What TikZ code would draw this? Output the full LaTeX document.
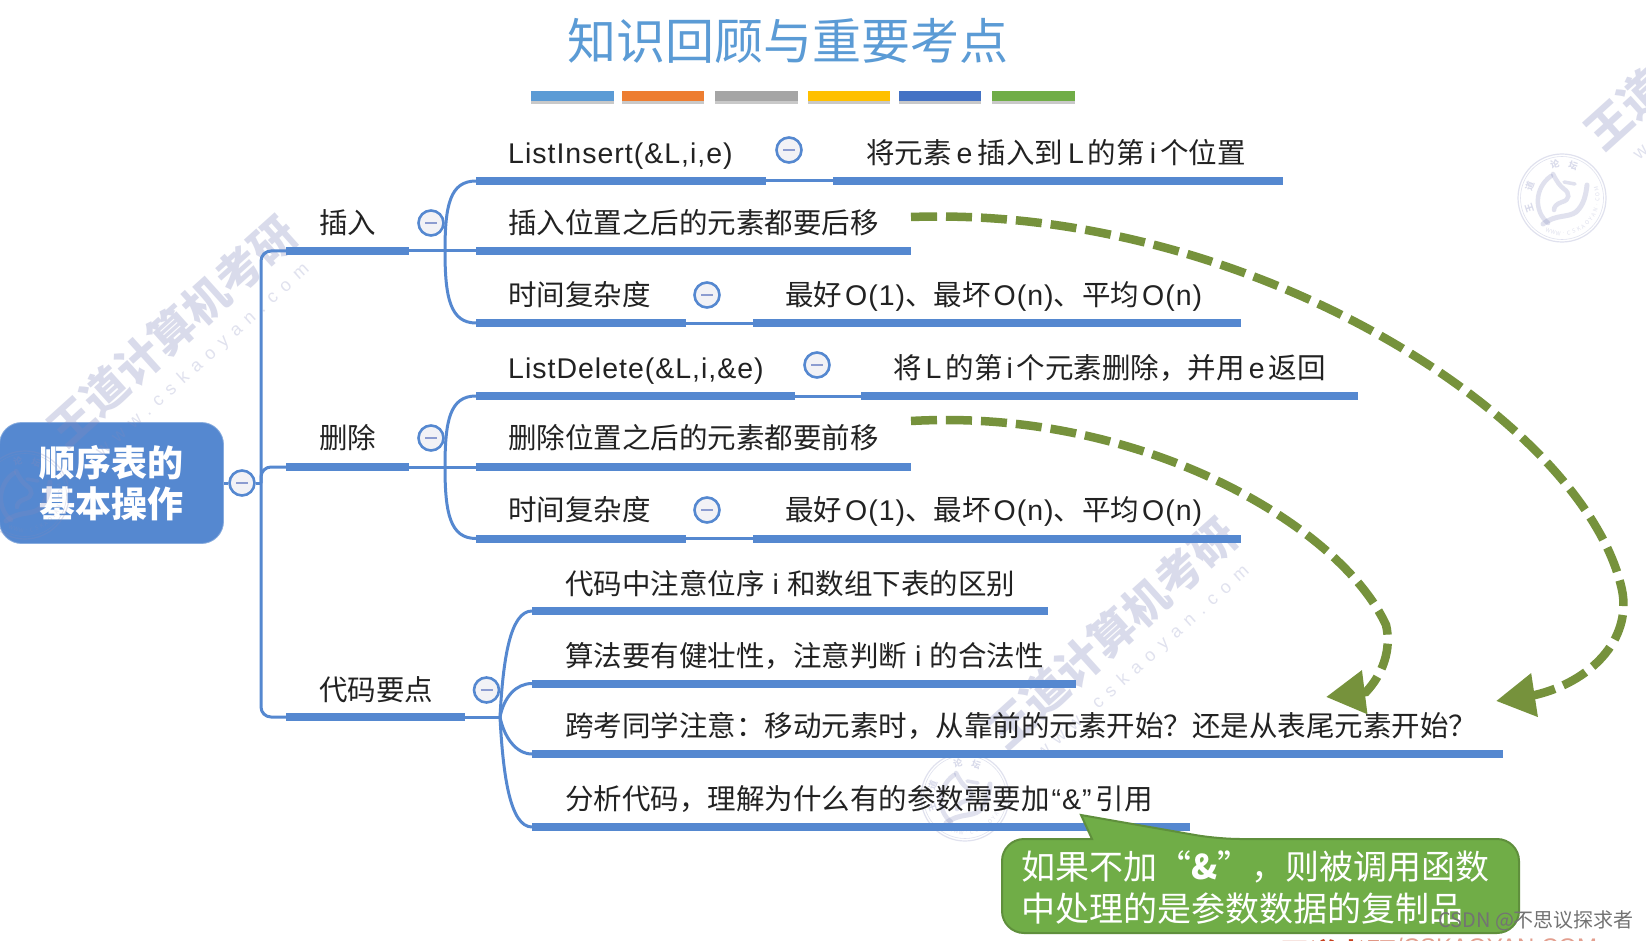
\documentclass[tikz,border=0pt]{standalone}
\usepackage{fontspec}
\setmainfont{Noto Sans CJK SC}
\newfontfamily\wmlatin[LetterSpace=45]{Liberation Sans}
\newfontfamily\lat[LetterSpace=3.5]{Liberation Sans}
\newfontfamily\latplain{Liberation Sans}
\usetikzlibrary{arrows.meta,shadows}
\definecolor{mapblue}{HTML}{5588D0}
\definecolor{btnfill}{HTML}{F2F2F6}
\definecolor{btnminus}{HTML}{8C9CD0}
\definecolor{inktext}{HTML}{222222}
\definecolor{arrowgreen}{HTML}{76923C}
\definecolor{callgreen}{HTML}{70AD47}
\definecolor{callline}{HTML}{5F8F3C}
\definecolor{wmcolor}{HTML}{848ABD}
\definecolor{titleblue}{HTML}{5B9BD5}
\definecolor{sOne}{HTML}{5B9BD5}
\definecolor{sTwo}{HTML}{ED7D31}
\definecolor{sThree}{HTML}{A5A5A5}
\definecolor{sFour}{HTML}{FFC000}
\definecolor{sFive}{HTML}{4472C4}
\definecolor{sSix}{HTML}{70AD47}
\definecolor{footred}{HTML}{C8401E}
\newcommand\fsz[2]{\fontsize{#1}{#2}\selectfont}
\newcommand\la[1]{{\lat #1}}
\newcommand\gp[1]{\hspace{#1pt}}
\tikzset{
  x=1pt,y=-1pt,
  lbl/.style={anchor=west,inner sep=0pt,text=inktext,font=\fsz{28.5}{34},text height=25pt,text depth=3.5pt},
  barstyle/.style={anchor=west,inner sep=0pt,fill=mapblue,minimum height=8pt},
  conn/.style={draw=mapblue,line width=3pt,rounded corners=10pt},
  cbtn/.style={circle,draw=mapblue,line width=2.6pt,fill=btnfill,minimum size=25pt,inner sep=0pt,
    path picture={\draw[btnminus,line width=2.2pt] (path picture bounding box.center) ++(-6,0) -- ++(12,0);}},
  rootbox/.style={rounded corners=22pt,fill=mapblue,draw=mapblue!70!white,line width=.8pt,minimum width=224pt,minimum height=121pt,inner sep=0pt,text=white,align=center,font=\fsz{36}{41}\bfseries},
  cbar/.style={anchor=west,inner sep=0pt,minimum height=10pt,drop shadow={shadow xshift=0pt,shadow yshift=-3pt,opacity=.35,fill=black!60}},
  dasharrow/.style={draw=arrowgreen,line width=8.5pt,dash pattern=on 26pt off 9pt,-{Triangle[length=39pt,width=42pt,fill=arrowgreen]}},
  wmbig/.style={rotate=42,text=wmcolor,text opacity=.3,font=\fsz{45}{45}\bfseries,inner sep=0pt},
  wmsmall/.style={rotate=42,text=wmcolor,text opacity=.25,font=\fsz{18}{18}\wmlatin,inner sep=0pt},
  sealchar/.style={text=wmcolor,text opacity=.3,inner sep=0pt,font=\fsz{9}{9}\bfseries},
  sealurl/.style={text=wmcolor,text opacity=.25,inner sep=0pt,font=\fsz{5.5}{6}},
}
\newcommand\barn[4]{\node[barstyle,minimum width={(#3-#2)*1pt}] (#1) at (#2,#4) {};}
\newcommand\colbar[4]{\node[cbar,fill=#1,minimum width={(#3-#2)*1pt}] (#4) at (#2,96) {};}
\newcommand\wmark[2]{%
 \begin{scope}[shift={(#1,#2)}]
  \begin{scope}[draw=wmcolor,draw opacity=.25,line cap=round]
   \draw[line width=1.2pt] (0,0) circle[radius=44];
   \draw[line width=.6pt] (0,0) circle[radius=41.5];
   \draw[line width=4.5pt] (-11,-22) .. controls (-28,-10) and (-28,14) .. (-14,25);
   \draw[line width=5pt] (-19,26) .. controls (-6,16) and (6,20) .. (14,14) .. controls (22,7) and (24,-4) .. (25,-13);
   \draw[line width=4.5pt] (-9,-24) .. controls (-5,-16) and (-2,-12) .. (2,-9) .. controls (8,-5) and (8,2) .. (0,4) .. controls (-6,6) and (-8,9) .. (-8,12);
   \draw[line width=3.5pt] (2,-16) -- (13,-14);
  \end{scope}
  \foreach \ch/\ang in {王/162,道/200,论/258,坛/289}
   {\node[sealchar,rotate=-\ang-90] at ({34.5*cos(\ang)},{34.5*sin(\ang)}) {\ch};}
  \foreach \ch [count=\k] in {W,W,W,.,C,S,K,A,O,Y,A,N,.,C,O,M}
   {\pgfmathsetmacro\ang{121.5-8.5*\k}
   \node[sealurl,rotate=-\ang+90] at ({35.5*cos(\ang)},{35.5*sin(\ang)}) {\ch};}
  \node[wmbig] at (147,-164) {王道计算机考研};
  \node[wmsmall] at (178,-134) {www.cskaoyan.com};
 \end{scope}}
\begin{document}
\begin{tikzpicture}
\useasboundingbox (0,0) rectangle (1646,941);
\clip (0,0) rectangle (1646,941);
\fill[white] (0,0) rectangle (1646,941);

% root first, so that the watermark seal shows over it
\node[rootbox] (root) at (111.5,483) {顺序表的\\基本操作};

% watermarks
\wmark{25}{495}
\wmark{1562}{198}
\wmark{965}{797}

% title and colour strip
\node[inner sep=0pt,text=titleblue,font=\fsz{49}{49}] (title) at (788,41) {知识回顾与重要考点};
\colbar{sOne}{531}{614}{cb1}
\colbar{sTwo}{622}{704}{cb2}
\colbar{sThree}{715}{798}{cb3}
\colbar{sFour}{808}{890}{cb4}
\colbar{sFive}{899}{981}{cb5}
\colbar{sSix}{992}{1075}{cb6}

% first level
\barn{bIns}{286}{409}{251}
\barn{bDel}{286}{409}{467}
\barn{bKey}{286}{465}{717}
\node[cbtn] (cRoot) at (242,483) {};
\coordinate (trunk) at (261,483);
\draw[conn] (root.east) -- (cRoot.west);
\draw[conn] (cRoot.east) -- (trunk);
\draw[conn] (trunk) |- (bIns.west);
\draw[conn] (trunk) |- (bDel.west);
\draw[conn] (trunk) |- (bKey.west);
\node[lbl] (tIns) at (319,223) {插入};
\node[lbl] (tDel) at (319,438) {删除};
\node[lbl] (tKey) at (319,690) {代码要点};
\node[cbtn] (cIns) at (431,223) {};
\node[cbtn] (cDel) at (431,438) {};
\node[cbtn] (cKey) at (486.5,690) {};

% insert branch
\barn{bI1}{476}{766}{181}
\barn{bI1r}{833}{1283}{181}
\barn{bI2}{476}{911}{251}
\barn{bI3}{476}{686}{323}
\barn{bI3r}{753}{1241}{323}
\coordinate (fI) at (445,251);
\draw[conn] (bIns.east) -- (bI2.west);
\draw[conn] (fI) .. controls (445,205) and (450,181) .. (bI1.west);
\draw[conn] (fI) .. controls (445,297) and (450,323) .. (bI3.west);
\draw[conn] (bI1.east) -- (bI1r.west);
\draw[conn] (bI3.east) -- (bI3r.west);
\node[cbtn] (cI1) at (789,150) {};
\node[cbtn] (cI3) at (707,295) {};
\node[lbl] (tI1) at (508,153) {\la{ListInsert(\&L,i,e)}};
\node[lbl] (tI1r) at (866,153) {将元素\gp{5}\la{e}\gp{5}插入到\gp{5}\la{L}\gp{4}的第\gp{5}\la{i}\gp{4}个位置};
\node[lbl] (tI2) at (508,223) {插入位置之后的元素都要后移};
\node[lbl] (tI3) at (508,295) {时间复杂度};
\node[lbl] (tI3r) at (785,295) {最好\gp{3}\la{O(1)}、最坏\gp{3}\la{O(n)}、平均\gp{3}\la{O(n)}};

% delete branch
\barn{bD1}{476}{795}{396}
\barn{bD1r}{861}{1358}{396}
\barn{bD2}{476}{911}{467}
\barn{bD3}{476}{686}{538.5}
\barn{bD3r}{753}{1241}{538.5}
\coordinate (fD) at (445,467);
\draw[conn] (bDel.east) -- (bD2.west);
\draw[conn] (fD) .. controls (445,420) and (450,396) .. (bD1.west);
\draw[conn] (fD) .. controls (445,513) and (450,538.5) .. (bD3.west);
\draw[conn] (bD1.east) -- (bD1r.west);
\draw[conn] (bD3.east) -- (bD3r.west);
\node[cbtn] (cD1) at (817,365) {};
\node[cbtn] (cD3) at (707,510) {};
\node[lbl] (tD1) at (508,368) {\la{ListDelete(\&L,i,\&e)}};
\node[lbl] (tD1r) at (893,368) {将\gp{4}\la{L}\gp{4}的第\gp{4}\la{i}\gp{4}个元素删除，并用\gp{4}\la{e}\gp{4}返回};
\node[lbl] (tD2) at (508,438) {删除位置之后的元素都要前移};
\node[lbl] (tD3) at (508,510) {时间复杂度};
\node[lbl] (tD3r) at (785,510) {最好\gp{3}\la{O(1)}、最坏\gp{3}\la{O(n)}、平均\gp{3}\la{O(n)}};

% key points branch
\barn{bK1}{532}{1048}{611}
\barn{bK2}{532}{1076}{683.5}
\barn{bK3}{532}{1503}{754}
\barn{bK4}{532}{1190}{827}
\coordinate (fK) at (500,717);
\draw[conn] (bKey.east) -- (fK);
\draw[conn] (fK) .. controls (503,660) and (510,611) .. (bK1.west);
\draw[conn] (fK) .. controls (504,697) and (516,683.5) .. (bK2.west);
\draw[conn] (fK) .. controls (504,737) and (516,754) .. (bK3.west);
\draw[conn] (fK) .. controls (503,775) and (510,827) .. (bK4.west);
\node[lbl] (tK1) at (565,584) {代码中注意位序\gp{8}\la{i}\gp{8}和数组下表的区别};
\node[lbl] (tK2) at (565,656) {算法要有健壮性，注意判断\gp{8}\la{i}\gp{8}的合法性};
\node[lbl] (tK3) at (565,725.5) {跨考同学注意：移动元素时，从靠前的元素开始？还是从表尾元素开始？};
\node[lbl] (tK4) at (565,799) {分析代码，理解为什么有的参数需要加\gp{2}\la{“\&”}\gp{4}引用};

% dashed arrows
\coordinate (aS1) at (911,217);
\coordinate (aE1) at (1496,701);
\coordinate (aS2) at (911,421);
\coordinate (aE2) at (1326,697);
\draw[dasharrow] (aS1) .. controls (1250,205) and (1585,420) .. (1622,590)
   .. controls (1632,640) and (1590,682) .. (1535,695) -- (aE1);
\draw[dasharrow] (aS2) .. controls (1140,408) and (1340,525) .. (1386,625)
   .. controls (1392,650) and (1382,675) .. (1366,692) -- (aE2);

% callout
\coordinate (callTip) at (1081,815);
\draw[fill=callgreen,draw=callline,line width=2pt,rounded corners=22pt]
  (1092,839) -- (1002,839) -- (1002,933) -- (1519,933) -- (1519,839) -- (1218,839)
  [sharp corners] -- (callTip) -- cycle;
\node[anchor=west,inner sep=0pt,text=white,align=left,font=\fsz{34}{42}] (callText) at (1021,888)
  {如果不加“\textbf{\&}”，则被调用函数\\中处理的是参数数据的复制品};

% footer and credit
\node[anchor=west,inner sep=0pt,text=footred,font=\fsz{29}{30}\bfseries,text height=26.4pt,text depth=3.6pt] (foot) at (1280,953) {王道考研\raisebox{9pt}{\fsz{24}{24}\latplain\mdseries\textcolor{footred!50!white}{/CSKAOYAN.COM}}};
\node[anchor=west,inner sep=0pt,text=black!55,font=\fsz{20}{24}] (credit) at (1438,921) {CSDN @不思议探求者};
\end{tikzpicture}
\end{document}
